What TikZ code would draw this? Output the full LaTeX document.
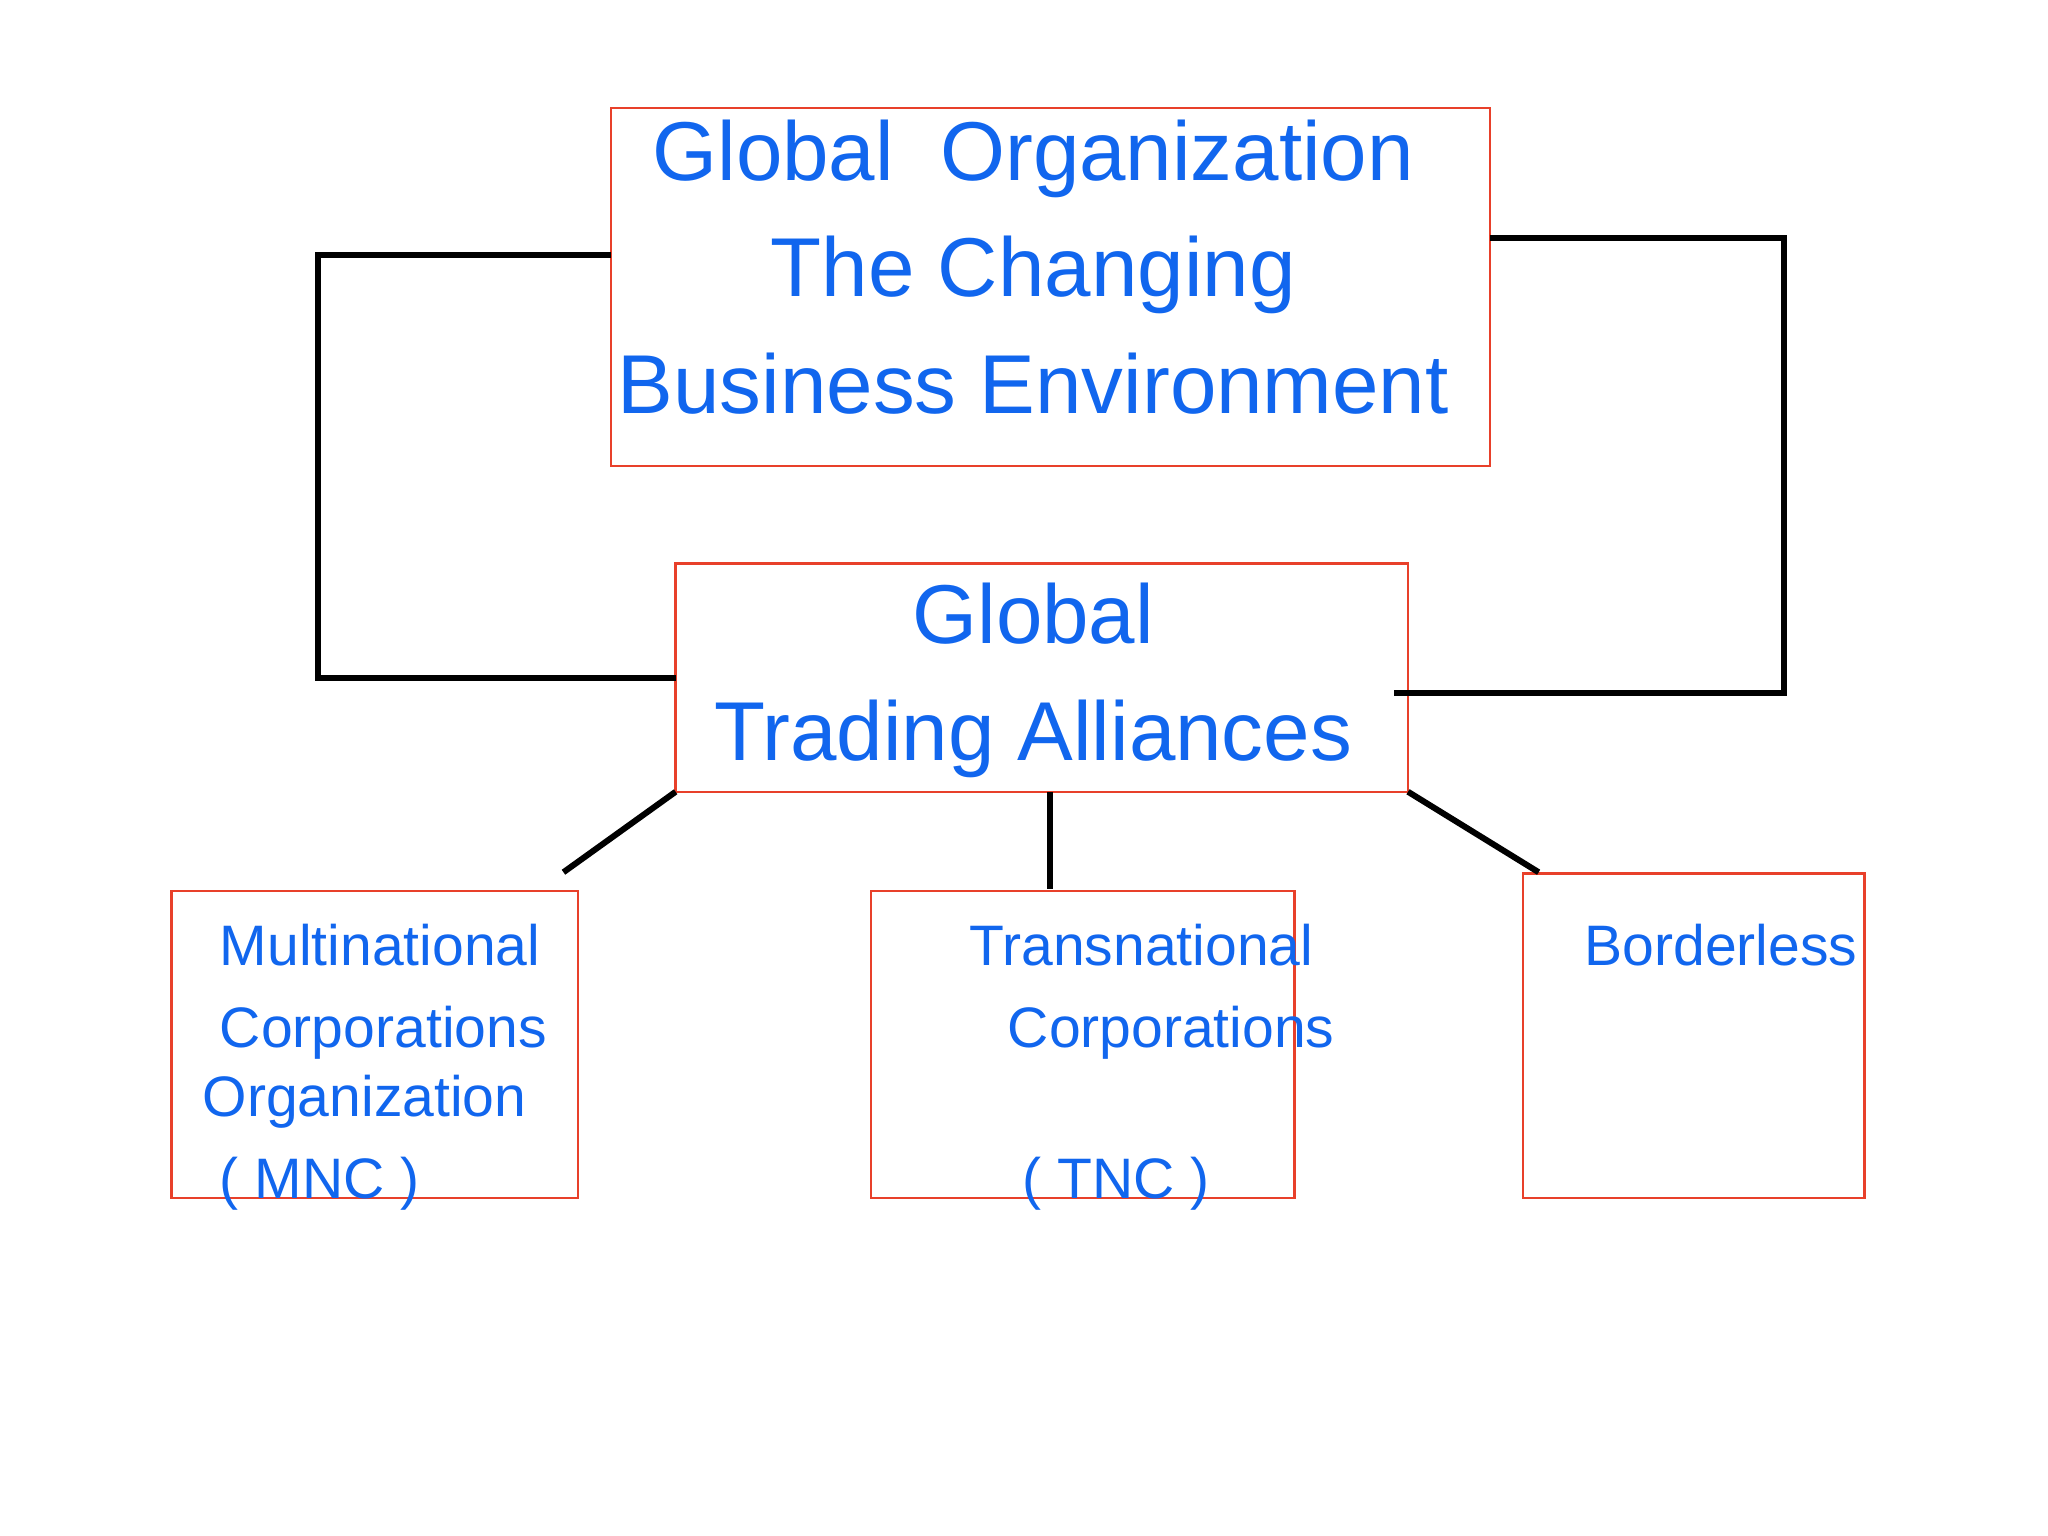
\documentclass[tikz,border=0pt]{standalone}
\usepackage{fontspec}
\setmainfont{Liberation Sans}
\definecolor{tblue}{RGB}{17,102,238}
\definecolor{bred}{RGB}{232,64,42}
\begin{document}
\begin{tikzpicture}[x=0.01cm,y=-0.01cm,
  box/.style={draw=bred,line width=0.5pt},
  big/.style={text=tblue,font=\fontsize{18}{20}\selectfont,inner sep=0,anchor=base},
  sm/.style={text=tblue,font=\fontsize{12.3}{14}\selectfont,inner sep=0,anchor=base west},
  link/.style={line width=1.3pt,black}]
\useasboundingbox (0,0) rectangle (1552,1164);
\draw[box] (463,82) rectangle (1129,353);
\draw[box] (512,427) rectangle (1067,600);
\draw[box] (130,675) rectangle (438,908);
\draw[box] (660,675) rectangle (981,908);
\draw[box] (1154,662) rectangle (1413,908);
\node[big] (t1) at (783,137) {Global\ \ Organization};
\node[big] (t2) at (783,225) {The Changing};
\node[big] (t3) at (783,313) {Business Environment};
\node[big] (m1) at (783,488) {Global};
\node[big] (m2) at (783,576) {Trading Alliances};
\node[sm] (a1) at (166,732) {Multinational};
\node[sm] (a2) at (166,794) {Corporations};
\node[sm] (a3) at (153,846) {Organization};
\node[sm] (a4) at (166,908) {( MNC )};
\node[sm] (b1) at (734,732) {Transnational};
\node[sm] (b2) at (763,794) {Corporations};
\node[sm] (b3) at (774,908) {( TNC )};
\node[sm] (c1) at (1200,732) {Borderless};
\coordinate (topL) at (463,193); \coordinate (topR) at (1129,180);
\coordinate (midL) at (512,514); \coordinate (midR) at (1056,525);
\coordinate (mBL) at (512,600); \coordinate (mBC) at (796,600); \coordinate (mBR) at (1067,600);
\coordinate (eL) at (427,661); \coordinate (eC) at (796,674); \coordinate (eR) at (1166,661);
\draw[link] (topL) -- (241,193) -- (241,514) -- (midL);
\draw[link] (topR) -- (1352,180) -- (1352,525) -- (midR);
\draw[link] (mBL) -- (eL);
\draw[link] (mBC) -- (eC);
\draw[link] (mBR) -- (eR);
\end{tikzpicture}
\end{document}
